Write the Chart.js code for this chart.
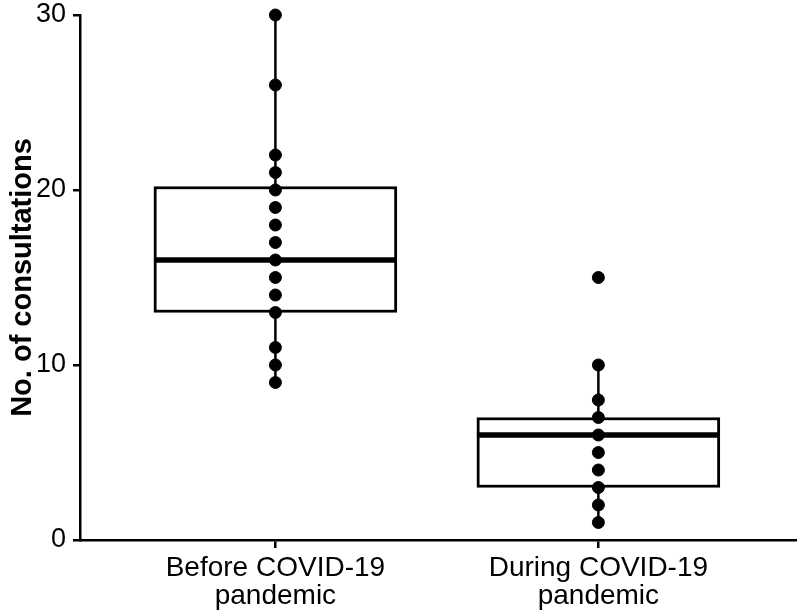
<!DOCTYPE html>
<html lang="en">
<head>
    <meta charset="UTF-8">
    <title>Consultations before and during COVID-19</title>
    <script src="https://cdn.jsdelivr.net/npm/chart.js"></script>
    <style>
        body {
            margin: 0;
            background-color: #fff;
        }
        canvas {
            display: block;
        }
    </style>
</head>
<body>
    <canvas id="box-chart" width="797" height="612"></canvas>

    <script>
        // categories and box statistics
        const categories = [["Before COVID-19", "pandemic"], ["During COVID-19", "pandemic"]];
        const q1 = [13, 3];
        const median = [16, 6];
        const q3 = [20.2, 7];
        const whiskerLow = [9, 1];
        const whiskerHigh = [30, 10];
        const beforePoints = [30, 26, 22, 21, 20, 19, 18, 17, 16, 15, 14, 13, 11, 10, 9];
        const duringPoints = [15, 10, 8, 7, 6, 5, 4, 3, 2, 1];
        const yTicks = [0, 10, 20, 30];

        const BOX_HALF = 0.376; // half box width in category units
        const font = "'Liberation Sans', Arial, sans-serif";
        const black = "#000";

        // keep the plot area where the layout padding puts it
        function noScalePadding(scale) {
            scale.paddingLeft = 0;
            scale.paddingRight = 0;
            scale.paddingTop = 0;
            scale.paddingBottom = 0;
        }

        const datasets = [];

        // whiskers (drawn first, box covers the middle part)
        categories.forEach((c, i) => {
            datasets.push({
                type: "line",
                data: [{ x: i + 1, y: whiskerLow[i] }, { x: i + 1, y: whiskerHigh[i] }],
                borderColor: black,
                borderWidth: 2.5,
                pointRadius: 0,
                order: 4
            });
        });

        // boxes as floating bars
        datasets.push({
            type: "bar",
            data: categories.map((c, i) => ({ x: i + 1, y: [q1[i], q3[i]] })),
            backgroundColor: "#fff",
            borderColor: black,
            borderWidth: 3,
            borderSkipped: false,
            barThickness: 243,
            order: 3
        });

        // medians
        categories.forEach((c, i) => {
            datasets.push({
                type: "line",
                data: [{ x: i + 1 - BOX_HALF, y: median[i] }, { x: i + 1 + BOX_HALF, y: median[i] }],
                borderColor: black,
                borderWidth: 5.5,
                pointRadius: 0,
                order: 2
            });
        });

        // individual values
        [beforePoints, duringPoints].forEach((pts, i) => {
            datasets.push({
                type: "scatter",
                data: pts.map(v => ({ x: i + 1, y: v })),
                backgroundColor: black,
                borderColor: black,
                pointRadius: 6,
                clip: false,
                order: 1
            });
        });

        new Chart(document.getElementById("box-chart").getContext("2d"), {
            type: "bar",
            data: { datasets },
            options: {
                responsive: false,
                animation: false,
                layout: {
                    autoPadding: false,
                    padding: { top: 15, right: 0, left: 0, bottom: 0 }
                },
                plugins: {
                    legend: { display: false },
                    tooltip: { enabled: false }
                },
                scales: {
                    x: {
                        type: "linear",
                        offset: false,
                        min: 0.395,
                        max: 2.615,
                        afterBuildTicks: (scale) => {
                            scale.ticks = categories.map((c, i) => ({ value: i + 1 }));
                        },
                        afterFit: (scale) => {
                            scale.height = 72;
                            noScalePadding(scale);
                        },
                        ticks: {
                            callback: (v) => categories[v - 1],
                            color: black,
                            padding: 6,
                            maxRotation: 0,
                            font: { family: font, size: 28, lineHeight: 1.0 }
                        },
                        grid: {
                            offset: false,
                            drawOnChartArea: false,
                            drawTicks: true,
                            tickLength: 8,
                            color: black,
                            lineWidth: 2.5
                        },
                        border: { display: true, color: black, width: 2.5 }
                    },
                    y: {
                        min: 0,
                        max: 30,
                        afterBuildTicks: (scale) => {
                            scale.ticks = yTicks.map(v => ({ value: v }));
                        },
                        afterFit: (scale) => {
                            scale.width = 80;
                            noScalePadding(scale);
                        },
                        ticks: {
                            color: black,
                            padding: 7,
                            font: { family: font, size: 27, lineHeight: 1.0 }
                        },
                        grid: {
                            drawOnChartArea: false,
                            drawTicks: true,
                            tickLength: 7,
                            color: black,
                            lineWidth: 2.5
                        },
                        border: { display: true, color: black, width: 2.5 },
                        title: {
                            display: true,
                            text: "No. of consultations",
                            color: black,
                            padding: { top: 6, bottom: 0 },
                            font: { family: font, size: 29, weight: "bold" }
                        }
                    }
                }
            }
        });
    </script>
</body>
</html>
